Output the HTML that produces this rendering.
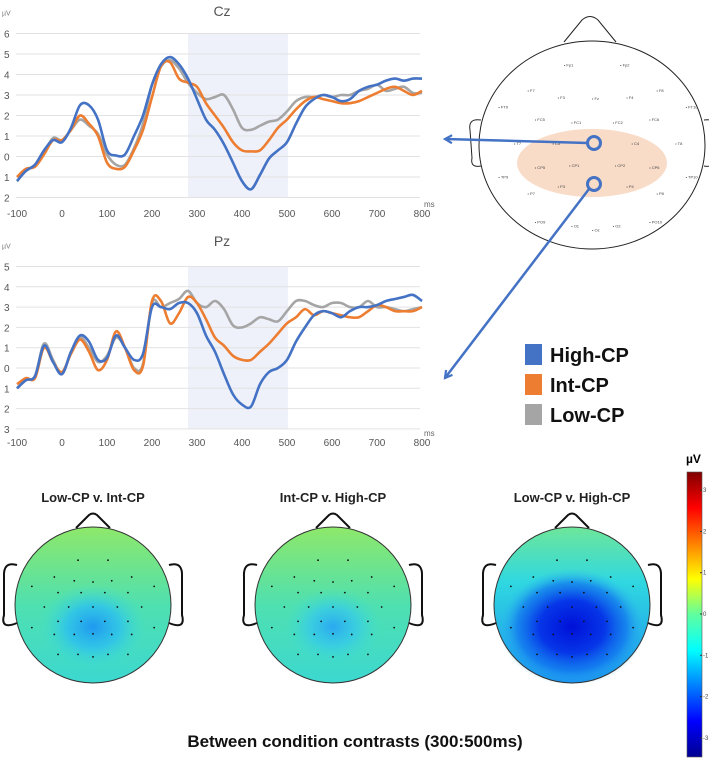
<!DOCTYPE html>
<html><head><meta charset="utf-8"><style>
body{margin:0;background:#fff;width:709px;height:764px;overflow:hidden;font-family:"Liberation Sans",sans-serif}
svg{position:absolute;left:0;top:0}
</style></head><body>
<svg id="s" width="709" height="764">
<defs>
<linearGradient id="base" x1="0" y1="0" x2="0" y2="1"><stop offset="0" stop-color="#8ee86a"/><stop offset="0.5" stop-color="#4fe0b0"/><stop offset="1" stop-color="#3cd8d0"/></linearGradient>
<linearGradient id="base3" x1="0" y1="0" x2="0" y2="1"><stop offset="0" stop-color="#6ee69a"/><stop offset="0.35" stop-color="#30d8e0"/><stop offset="1" stop-color="#1890f0"/></linearGradient>
<radialGradient id="blob1"><stop offset="0" stop-color="#1f98f0"/><stop offset="0.5" stop-color="#2cc0f0" stop-opacity="0.8"/><stop offset="1" stop-color="#40e0d0" stop-opacity="0"/></radialGradient>
<radialGradient id="blob2"><stop offset="0" stop-color="#2aa8f0"/><stop offset="0.5" stop-color="#34c8ee" stop-opacity="0.7"/><stop offset="1" stop-color="#40e0d0" stop-opacity="0"/></radialGradient>
<radialGradient id="blob3"><stop offset="0" stop-color="#0010d8"/><stop offset="0.45" stop-color="#0636e8"/><stop offset="0.75" stop-color="#1070f0" stop-opacity="0.7"/><stop offset="1" stop-color="#30c0f0" stop-opacity="0"/></radialGradient>
<linearGradient id="jet" x1="0" y1="1" x2="0" y2="0"><stop offset="0" stop-color="#00008f"/><stop offset="0.125" stop-color="#0000ff"/><stop offset="0.375" stop-color="#00ffff"/><stop offset="0.5" stop-color="#60ff9f"/><stop offset="0.625" stop-color="#ffff00"/><stop offset="0.875" stop-color="#ff0000"/><stop offset="1" stop-color="#800000"/></linearGradient>
<marker id="ah" markerWidth="10" markerHeight="10" refX="8" refY="5" orient="auto" markerUnits="userSpaceOnUse"><path d="M1,1 L8,5 L1,9" fill="none" stroke="#4472c4" stroke-width="2.2"/></marker>
</defs>
<g id="charts"></g>
<!-- head diagram -->
<g>
<path d="M564,42 L582,20 Q590,13 598,20 L616,42" fill="none" stroke="#222" stroke-width="1"/>
<path d="M481,120 Q468,118 470,130 L472,158 Q470,168 481,166" fill="none" stroke="#222" stroke-width="1"/>
<path d="M704,120 Q716,118 714,130 L712,158 Q714,168 704,166" fill="none" stroke="#222" stroke-width="1"/>
<ellipse cx="592" cy="145" rx="113" ry="104" fill="#fff" stroke="#222" stroke-width="1"/>
<ellipse cx="592" cy="163" rx="75" ry="34" fill="#f8dcc8"/>
<g id="elecs" font-size="4" fill="#444"></g>
<circle cx="594" cy="143" r="6.5" fill="none" stroke="#4472c4" stroke-width="3"/>
<circle cx="594" cy="184" r="6.5" fill="none" stroke="#4472c4" stroke-width="3"/>
<line x1="588" y1="143" x2="445" y2="139" stroke="#4472c4" stroke-width="2.5" marker-end="url(#ah)"/>
<line x1="589" y1="189" x2="445" y2="378" stroke="#4472c4" stroke-width="2.5" marker-end="url(#ah)"/>
</g>
<!-- legend -->
<g font-weight="bold" font-size="20" fill="#111">
<rect x="525" y="344" width="17" height="21" fill="#4472c4"/>
<text x="550" y="362">High-CP</text>
<rect x="525" y="374" width="17" height="21" fill="#ed7d31"/>
<text x="550" y="392">Int-CP</text>
<rect x="525" y="404" width="17" height="21" fill="#a5a5a5"/>
<text x="550" y="422">Low-CP</text>
</g>
<g id="topos"></g>
<!-- colorbar -->
<g>
<text x="686" y="463" font-size="12" font-weight="bold">µV</text>
<rect x="687" y="472" width="15" height="285" fill="url(#jet)" stroke="#555" stroke-width="0.6"/>
<g id="cbt" font-size="6" fill="#444"></g>
</g>
<text x="355" y="747" text-anchor="middle" font-size="17" font-weight="bold" fill="#111">Between condition contrasts (300:500ms)</text>
</svg>
<script>
const times=[-100,-80,-60,-40,-20,0,20,40,60,80,100,120,140,160,180,200,220,240,260,280,300,320,340,360,380,400,420,440,460,480,500,520,540,560,580,600,620,640,660,680,700,720,740,760,780,800];
const czHigh=[-1.2,-0.7,-0.4,0.3,0.8,0.7,1.4,2.5,2.5,1.8,0.3,0.05,0.1,1.0,2.0,3.5,4.5,4.85,4.5,3.8,2.8,1.8,1.3,0.6,-0.3,-1.2,-1.6,-0.9,-0.1,0.3,0.7,1.6,2.4,2.8,3.0,2.9,2.7,2.8,3.2,3.4,3.5,3.7,3.8,3.7,3.8,3.8];
const czInt=[-1.0,-0.6,-0.5,0.1,0.8,0.8,1.3,2.0,1.6,1.0,-0.3,-0.6,-0.5,0.3,1.3,2.9,4.4,4.6,3.8,3.6,3.4,2.6,2.0,1.4,0.7,0.3,0.25,0.3,0.8,1.4,1.8,2.3,2.7,2.9,2.8,2.7,2.6,2.6,2.7,2.9,3.1,3.3,3.4,3.2,3.0,3.2];
const czLow=[-1.2,-0.7,-0.4,0.2,0.9,0.8,1.3,1.8,1.5,1.1,0.1,-0.4,-0.4,0.4,1.6,3.5,4.4,4.7,4.3,3.6,3.1,2.8,2.9,3.0,2.3,1.4,1.3,1.5,1.7,1.8,2.2,2.7,2.9,2.9,3.0,2.9,3.0,3.0,3.2,3.3,3.5,3.2,3.3,3.4,3.1,3.1];
const pzHigh=[-1.0,-0.6,-0.4,1.1,0.3,-0.3,0.8,1.6,1.3,0.4,0.5,1.6,1.0,0.4,0.7,3.0,3.0,2.9,3.2,3.2,2.7,1.6,0.8,-0.3,-1.3,-1.8,-1.9,-0.8,-0.2,0.0,0.4,1.3,2.0,2.6,2.8,2.7,2.5,2.8,3.0,3.0,3.1,3.3,3.4,3.5,3.6,3.3];
const pzInt=[-0.8,-0.5,-0.5,1.0,0.3,-0.2,0.7,1.4,0.8,-0.1,0.4,1.8,1.0,-0.1,0.1,3.3,3.3,2.2,2.7,3.5,3.2,2.4,1.5,1.1,0.6,0.4,0.4,0.8,1.2,1.7,2.2,2.5,2.9,2.6,2.8,2.7,2.6,2.5,2.5,2.8,3.1,3.0,2.8,2.8,2.8,3.0];
const pzLow=[-1.0,-0.6,-0.4,1.2,0.4,-0.3,0.8,1.5,1.0,0.3,0.6,1.5,1.0,0.0,0.2,3.2,3.0,3.2,3.4,3.8,3.2,3.0,3.3,2.9,2.1,2.0,2.2,2.5,2.4,2.3,2.8,3.3,3.3,3.1,3.0,3.2,3.2,3.0,3.0,3.3,3.0,3.0,2.9,2.8,2.9,3.0];
const xTicks=[-100,0,100,200,300,400,500,600,700,800];
const czYTicks=[6,5,4,3,2,1,0,-1,-2];
const pzYTicks=[5,4,3,2,1,0,-1,-2,-3];
const windowMs=[280,502];
const cbTicks=[3,2,1,0,-1,-2,-3];
const NS="http://www.w3.org/2000/svg";
function mk(t,a,p){const e=document.createElementNS(NS,t);for(const k in a)e.setAttribute(k,a[k]);p.appendChild(e);return e;}
const xs=v=>62+(v/100)*45;
function chart(name,title,titleY,top,step,ticks,series,xlabY){
  const g=mk('g',{},document.getElementById('charts'));
  
  
  const maxV=ticks[0], minV=ticks[ticks.length-1];
  const ys=v=>top+(maxV-v)*step;
  const bottom=ys(minV);
  const band=mk('rect',{x:xs(windowMs[0]),y:top,width:xs(windowMs[1])-xs(windowMs[0]),height:bottom-top,fill:'#eef1fa'},g);
  
  
  ticks.forEach(t=>{
    const l=mk('line',{x1:16,x2:420,y1:ys(t),y2:ys(t),stroke:'#e2e2e2','stroke-width':1},g);
    
    
    const tx=mk('text',{x:4,y:ys(t)+4,'font-size':10,fill:'#555'},g);tx.textContent=Math.abs(t);
    
    
  });
  xTicks.forEach(t=>{
    const tx=mk('text',{x:xs(t),y:xlabY,'font-size':10,fill:'#555','text-anchor':'middle'},g);tx.textContent=t;
    
    
  });
  const u=mk('text',{x:2,y:top-18,'font-size':7,fill:'#777'},g);u.textContent='µV';
  
  
  const ms=mk('text',{x:424,y:xlabY-10,'font-size':8,fill:'#666'},g);ms.textContent='ms';
  
  
  const ti=mk('text',{x:222,y:titleY,'font-size':14,fill:'#555','text-anchor':'middle'},g);ti.textContent=title;
  
  
  series.forEach(([vals,col,nm])=>{
    const P=vals.map((v,i)=>[xs(times[i]),ys(v)]);
    let d='M'+P[0][0]+','+P[0][1];
    for(let i=0;i<P.length-1;i++){const p0=P[Math.max(i-1,0)],p1=P[i],p2=P[i+1],p3=P[Math.min(i+2,P.length-1)];
      d+=` C${p1[0]+(p2[0]-p0[0])/6},${p1[1]+(p2[1]-p0[1])/6} ${p2[0]-(p3[0]-p1[0])/6},${p2[1]-(p3[1]-p1[1])/6} ${p2[0]},${p2[1]}`;}
    const p=mk('path',{d,fill:'none',stroke:col,'stroke-width':2.6,'stroke-linejoin':'round'},g);
    
    
  });
}
chart('cz','Cz',16,33.5,20.5,czYTicks,[[czLow,'#a5a5a5','low-cp-line'],[czInt,'#ed7d31','int-cp-line'],[czHigh,'#4472c4','high-cp-line']],217);
chart('pz','Pz',246,266.5,20.3,pzYTicks,[[pzLow,'#a5a5a5','low-cp-line'],[pzInt,'#ed7d31','int-cp-line'],[pzHigh,'#4472c4','high-cp-line']],446);
// electrodes on head diagram
const el=[['Fp1',-.27,-.82],['Fp2',.27,-.82],['F7',-.62,-.55],['F3',-.33,-.48],['Fz',0,-.47],['F4',.33,-.48],['F8',.62,-.55],['FT9',-.9,-.38],['FT10',.9,-.38],['FC5',-.55,-.25],['FC1',-.2,-.22],['FC2',.2,-.22],['FC6',.55,-.25],['T7',-.75,0],['C3',-.38,0],['C4',.38,0],['T8',.8,0],['CP5',-.55,.25],['CP1',-.22,.23],['CP2',.22,.23],['CP6',.55,.25],['TP9',-.9,.35],['TP10',.9,.35],['P7',-.62,.52],['P3',-.33,.45],['P4',.33,.45],['P8',.62,.52],['PO9',-.55,.82],['O1',-.2,.86],['Oz',0,.9],['O2',.2,.86],['PO10',.55,.82]];
const eg=document.getElementById('elecs');
el.forEach(([n,x,y])=>{const t=mk('text',{x:592+x*104,y:145+y*96},eg);t.textContent='• '+n;
  
  });
// topomaps
const topoTitles=['Low-CP v. Int-CP','Int-CP v. High-CP','Low-CP v. High-CP'];
const topoCx=[93,333,572];
const topoFill=[['url(#base)','url(#blob1)',0.55],['url(#base)','url(#blob2)',0.5],['url(#base3)','url(#blob3)',0.75]];
const tg=document.getElementById('topos');
const dots=[[-.24,-.75],[.24,-.75],[-.62,-.48],[-.3,-.42],[0,-.4],[.3,-.42],[.62,-.48],[-.98,-.33],[.98,-.33],[-.56,-.23],[-.19,-.23],[.19,-.23],[.56,-.23],[-.78,0],[-.39,0],[0,0],[.39,0],[.78,0],[-.56,.23],[-.19,.23],[.19,.23],[.56,.23],[-.98,.33],[.98,.33],[-.62,.44],[-.3,.44],[0,.43],[.3,.44],[.62,.44],[-.56,.76],[-.24,.76],[0,.8],[.24,.76],[.56,.76]];
topoTitles.forEach((tt,k)=>{
  const cx=topoCx[k],cy=605,r=78;
  const g=mk('g',{},tg);
  
  
  const t=mk('text',{x:cx,y:502,'text-anchor':'middle','font-size':13,'font-weight':'bold',fill:'#222'},g);t.textContent=tt;
  
  
  mk('path',{d:`M${cx-17},${cy-r+1} L${cx-4},${cy-r-12} Q${cx},${cy-r-15} ${cx+4},${cy-r-12} L${cx+17},${cy-r+1}`,fill:'none',stroke:'#111','stroke-width':2},g);
  mk('path',{d:`M${cx-r+2},${cy-40} Q${cx-r-12},${cy-44} ${cx-r-11},${cy-28} L${cx-r-11},${cy+10} Q${cx-r-15},${cy+25} ${cx-r+2},${cy+18}`,fill:'none',stroke:'#111','stroke-width':2},g);
  mk('path',{d:`M${cx+r-2},${cy-40} Q${cx+r+12},${cy-44} ${cx+r+11},${cy-28} L${cx+r+11},${cy+10} Q${cx+r+15},${cy+25} ${cx+r-2},${cy+18}`,fill:'none',stroke:'#111','stroke-width':2},g);
  mk('circle',{cx,cy,r,fill:topoFill[k][0]},g);
  const rr=r*topoFill[k][2];
  mk('ellipse',{cx,cy:cy+r*0.28,rx:rr*1.25,ry:rr,fill:topoFill[k][1]},g);
  mk('circle',{cx,cy,r,fill:'none',stroke:'#333','stroke-width':1},g);
  dots.forEach(([x,y])=>mk('circle',{cx:cx+x*r*0.8,cy:cy+y*r*0.8+2,r:0.9,fill:'#111'},g));
});
const cg=document.getElementById('cbt');
cbTicks.forEach(v=>{const y=614-v*41.3;mk('line',{x1:700,x2:702,y1:y,y2:y,stroke:'#333'},cg);
  const t=mk('text',{x:703,y:y+2},cg);t.textContent=v;
  
  });
</script>
</body></html>
